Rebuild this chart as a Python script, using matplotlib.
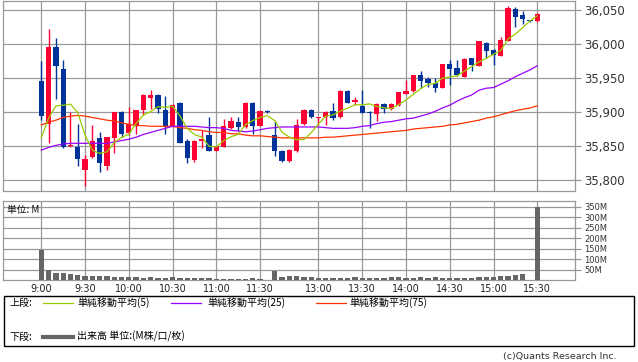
import pandas as pd
import matplotlib.pyplot as plt
from matplotlib.lines import Line2D
from matplotlib.patches import Rectangle

# 5-minute candles, positional index (morning 0-31, afternoon 32-68)
opens = [35946, 35882, 35996, 35963, 35850, 35849, 35815, 35834, 35862, 35821,
         35862, 35900, 35869, 35881, 35903, 35920, 35925, 35903, 35878, 35913,
         35857, 35830, 35858, 35866, 35843, 35849, 35877, 35885, 35878, 35913,
         35880, 35902, 35866, 35843, 35828, 35842, 35882, 35903, 35891, 35892,
         35901, 35892, 35931, 35915, 35909, 35900, 35897, 35912, 35905, 35910,
         35927, 35931, 35954, 35948, 35942, 35936, 35970, 35964, 35952, 35979,
         35968, 36002, 35991, 35983, 36005, 36051, 36043, 36035, 36034]
highs = [35975, 36022, 36009, 35976, 35900, 35882, 35837, 35881, 35871, 35864,
         35900, 35901, 35907, 35903, 35927, 35932, 35926, 35924, 35912, 35915,
         35860, 35859, 35873, 35893, 35850, 35890, 35893, 35893, 35915, 35915,
         35903, 35903, 35887, 35844, 35845, 35890, 35904, 35904, 35893, 35901,
         35913, 35932, 35932, 35922, 35932, 35901, 35913, 35913, 35913, 35930,
         35947, 35955, 35961, 35951, 35950, 35971, 35976, 35976, 35979, 35980,
         36005, 36003, 35992, 36011, 36056, 36055, 36048, 36036, 36045]
lows = [35888, 35855, 35919, 35847, 35849, 35821, 35791, 35833, 35812, 35815,
        35840, 35863, 35866, 35867, 35896, 35905, 35899, 35867, 35878, 35855,
        35825, 35827, 35847, 35842, 35842, 35848, 35875, 35872, 35877, 35868,
        35879, 35899, 35836, 35826, 35827, 35841, 35881, 35891, 35881, 35881,
        35888, 35891, 35913, 35910, 35898, 35876, 35887, 35899, 35903, 35909,
        35927, 35930, 35936, 35937, 35930, 35935, 35940, 35953, 35951, 35961,
        35967, 35980, 35969, 35982, 36004, 36025, 36029, 36033, 36033]
closes = [35894, 35996, 35968, 35848, 35852, 35831, 35831, 35857, 35825, 35863,
          35900, 35868, 35882, 35903, 35925, 35925, 35904, 35878, 35910, 35855,
          35833, 35858, 35860, 35842, 35850, 35879, 35887, 35878, 35913, 35880,
          35902, 35900, 35842, 35828, 35844, 35881, 35903, 35892, 35893, 35900,
          35891, 35931, 35914, 35918, 35899, 35898, 35912, 35904, 35912, 35929,
          35931, 35954, 35946, 35943, 35936, 35970, 35963, 35954, 35978, 35969,
          36004, 35990, 35984, 36006, 36053, 36040, 36037, 36034, 36044]

# volume in millions
volume = [143, 48, 35, 35, 30, 24, 19, 19, 19, 19,
          14, 14, 14, 14, 10, 14, 10, 10, 14, 10,
          10, 10, 10, 10, 5, 5, 5, 5, 5, 10,
          5, 0, 43, 14, 17, 19, 14, 14, 10, 10,
          10, 10, 10, 14, 10, 10, 10, 10, 14, 14,
          10, 10, 14, 10, 14, 10, 10, 10, 10, 10,
          14, 14, 14, 19, 19, 25, 29, 1.5, 347]

# first SMA(5) points use the previous session
ma5_head = [35862, 35891, 35909, 35910]
ma25 = [35844, 35848, 35851, 35853, 35854, 35854, 35854, 35854, 35854, 35854,
        35856, 35858, 35860, 35863, 35867, 35870, 35873, 35876, 35879, 35879,
        35879, 35879, 35878, 35877, 35877, 35876, 35873, 35872, 35871, 35872,
        35874, 35876, 35877, 35878, 35878, 35878, 35878, 35878, 35878, 35877,
        35876, 35876, 35876, 35877, 35879, 35880, 35883, 35885, 35886, 35888,
        35890, 35891, 35894, 35897, 35901, 35906, 35910, 35916, 35921, 35925,
        35932, 35935, 35936, 35941, 35946, 35952, 35957, 35962, 35968]
ma75 = [35881, 35885, 35888, 35892, 35894, 35895, 35894, 35892, 35890, 35888,
        35887, 35884, 35882, 35880, 35880, 35879, 35879, 35879, 35879, 35877,
        35876, 35874, 35873, 35871, 35870, 35870, 35868, 35868, 35866, 35865,
        35865, 35864, 35863, 35862, 35862, 35862, 35862, 35862, 35862, 35863,
        35863, 35864, 35865, 35866, 35867, 35868, 35869, 35870, 35871, 35872,
        35873, 35875, 35876, 35877, 35878, 35879, 35881, 35882, 35884, 35886,
        35888, 35891, 35893, 35896, 35899, 35902, 35904, 35906, 35909]

tick_pos = [0, 6, 12, 18, 24, 30, 38, 44, 50, 56, 62, 68]
tick_labels = ["9:00", "9:30", "10:00", "10:30", "11:00", "11:30",
               "13:00", "13:30", "14:00", "14:30", "15:00", "15:30"]
price_ticks = [35800, 35850, 35900, 35950, 36000, 36050]
vol_ticks = [50, 100, 150, 200, 250, 300, 350]

RED = "#ff0033"
BLUE = "#003399"
GRID = "#999999"
JP = ["Noto Sans CJK JP", "DejaVu Sans"]


def main():
    df = pd.DataFrame({"open": opens, "high": highs, "low": lows,
                       "close": closes, "volume": volume})
    ma5 = df["close"].rolling(5).mean().tolist()
    ma5[:4] = ma5_head
    x = list(range(len(df)))

    W, H = 638, 362
    fig = plt.figure(figsize=(W / 100, H / 100), dpi=100)
    ax = fig.add_axes([3.3 / W, 1 - 190.7 / H, 571.4 / W, 190 / H])
    axv = fig.add_axes([3.3 / W, 1 - 280 / H, 571.4 / W, 79 / H])

    for a in (ax, axv):
        a.set_xlim(-5.21, 73.13)
        a.set_xticks(tick_pos)
        a.grid(True, color=GRID, linewidth=0.9)
        a.set_axisbelow(True)
        for s in a.spines.values():
            s.set_color(GRID)
            s.set_linewidth(0.9)
        a.yaxis.tick_right()
        a.tick_params(axis="y", colors=GRID, length=4, width=0.9, pad=3)
        a.tick_params(axis="x", length=0)

    # candles
    up = df["close"] >= df["open"]
    colors = [RED if u else BLUE for u in up]
    ax.vlines(x, df["low"], df["high"], colors=colors, linewidth=1.0, zorder=3)
    body_lo = df[["open", "close"]].min(axis=1)
    body_h = (df["close"] - df["open"]).abs().clip(lower=1.2)
    ax.bar(x, body_h, bottom=body_lo, width=0.72, color=colors, zorder=4)

    ax.plot(x, ma75, color="#ff3300", linewidth=0.9, zorder=5)
    ax.plot(x, ma25, color="#9900ff", linewidth=0.9, zorder=5)
    ax.plot(x, ma5, color="#99cc00", linewidth=0.9, zorder=5)

    ax.set_ylim(35784.3, 36063.7)
    ax.set_yticks(price_ticks)
    ax.set_yticklabels([f"{p:,}" for p in price_ticks], color="#333333",
                       fontsize=8.5)
    ax.tick_params(axis="x", labelbottom=False)

    # volume
    axv.bar(x, df["volume"], width=0.72, color="#666666", zorder=3)
    axv.set_ylim(0, 377)
    axv.set_yticks(vol_ticks)
    axv.set_yticklabels([f"{v}M" for v in vol_ticks], color="#333333",
                        fontsize=6)
    axv.set_xticklabels(tick_labels, fontsize=7, color="#222222")
    axv.tick_params(axis="x", pad=3)
    axv.text(0.0065, 0.88, "単位: M", transform=axv.transAxes, fontsize=7,
             family=JP, va="center", ha="left", color="#111111")

    # legend box
    fig.patches.append(Rectangle((3.5 / W, 1 - 346 / H), 630.5 / W, 50 / H,
                                 transform=fig.transFigure, fill=False,
                                 edgecolor="black", linewidth=1.0))
    y1 = 1 - 303 / H
    y2 = 1 - 336.5 / H
    fig.text(10 / W, y1, "上段:", fontsize=7.2, family=JP, va="center")
    items = [(43, "#99cc00", 77, "単純移動平均(5)"),
             (171, "#9900ff", 207, "単純移動平均(25)"),
             (316, "#ff3300", 349, "単純移動平均(75)")]
    for lx, col, tx, label in items:
        fig.lines.append(Line2D([lx / W, (lx + 30) / W], [y1, y1],
                                transform=fig.transFigure, color=col,
                                linewidth=0.9))
        fig.text(tx / W, y1, label, fontsize=7.2, family=JP, va="center")
    fig.text(10 / W, y2, "下段:", fontsize=7.2, family=JP, va="center")
    fig.lines.append(Line2D([43 / W, 73 / W], [y2, y2],
                            transform=fig.transFigure, color="#666666",
                            linewidth=3))
    fig.text(77 / W, y2, "出来高 単位:(M株/口/枚)", fontsize=7.2, family=JP,
             va="center")

    fig.text(617 / W, 1 - 357 / H, "(c)Quants Research Inc.", fontsize=6.8,
             ha="right", va="center", color="#333333")

    fig.savefig("out.png", dpi=100)


if __name__ == "__main__":
    main()
